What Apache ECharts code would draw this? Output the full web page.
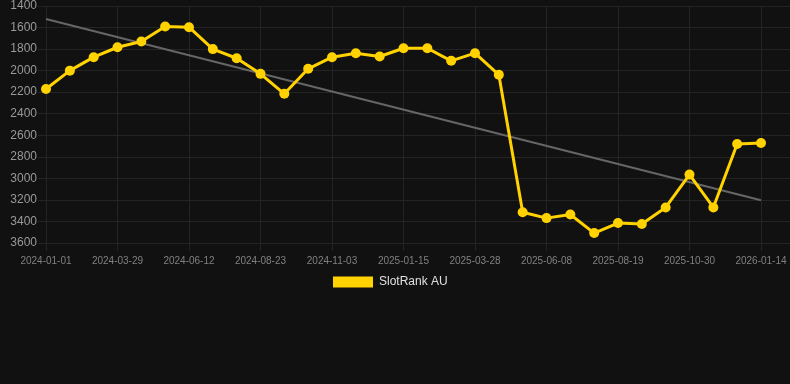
<!DOCTYPE html>
<html><head><meta charset="utf-8">
<script src="https://cdn.jsdelivr.net/npm/echarts@6/dist/echarts.min.js"></script>
<style>html,body{margin:0;padding:0;background:#111111;}#c{width:790px;height:384px;}</style>
</head><body><div id="c"></div>
<script>
var categories = ['2024-01-01','2024-01-30','2024-02-28','2024-03-29','2024-04-23','2024-05-18','2024-06-12','2024-07-06','2024-07-30','2024-08-23','2024-09-16','2024-10-10','2024-11-03','2024-11-27','2024-12-22','2025-01-15','2025-02-08','2025-03-04','2025-03-28','2025-04-21','2025-05-15','2025-06-08','2025-07-02','2025-07-26','2025-08-19','2025-09-12','2025-10-06','2025-10-30','2025-11-24','2025-12-19','2026-01-14'];
var rankAU = [2170,2000,1875,1783,1730,1590,1597,1800,1885,2030,2215,1983,1875,1838,1869,1792,1792,1909,1838,2039,3314,3369,3335,3508,3415,3424,3270,2965,3270,2681,2672];
var trendStart = 1520, trendEnd = 3203;
var yTicks = {min:1400, max:3600, interval:200};
var labelEvery = 3;

var n = categories.length;
var seriesData = rankAU.map(function(v, i){ return [i, v]; });
var trendData = [[0, trendStart], [n - 1, trendEnd]];
var gridColor = '#242424';

var chart = echarts.init(document.getElementById('c'));
chart.setOption({
  backgroundColor:'#111111',
  animation:false,
  grid:{left:46, right:0, top:6, bottom:141},
  legend:{
    data:['SlotRank AU'], top:276, left:333, padding:0,
    itemWidth:40, itemHeight:11, icon:'rect', itemGap:10,
    textStyle:{color:'#e0e0e0', fontSize:12, padding:[0,0,0,1], fontFamily:'Arial, Liberation Sans, sans-serif'}
  },
  xAxis:{
    type:'value', min:0, max:(n - 1) + 29/23.833, interval:labelEvery,
    axisLine:{show:false},
    axisTick:{show:true, length:8, lineStyle:{color:gridColor}},
    axisLabel:{color:'#808080', fontSize:10, margin:13, showMaxLabel:false, fontFamily:'Arial, Liberation Sans, sans-serif',
      formatter:function(v){ return (Number.isInteger(v) && v % labelEvery === 0 && categories[v]) ? categories[v] : ''; }},
    splitLine:{show:true, lineStyle:{color:gridColor}}
  },
  yAxis:{
    type:'value', inverse:true, min:yTicks.min, max:yTicks.max, interval:yTicks.interval,
    axisLine:{show:false},
    axisTick:{show:true, length:8, lineStyle:{color:gridColor}},
    axisLabel:{color:'#999', fontSize:12, margin:9, fontFamily:'Arial, Liberation Sans, sans-serif',
      formatter:function(v){ return String(v); }},
    splitLine:{lineStyle:{color:gridColor}}
  },
  series:[
    {name:'Trend', type:'line', data:trendData, showSymbol:false, symbol:'none',
     lineStyle:{color:'#666', width:2}, itemStyle:{color:'#666'}, z:1, silent:true},
    {name:'SlotRank AU', type:'line', data:seriesData, symbol:'circle', symbolSize:10,
     lineStyle:{color:'#FFD200', width:3}, itemStyle:{color:'#FFD200'}, z:3}
  ]
});
</script></body></html>
